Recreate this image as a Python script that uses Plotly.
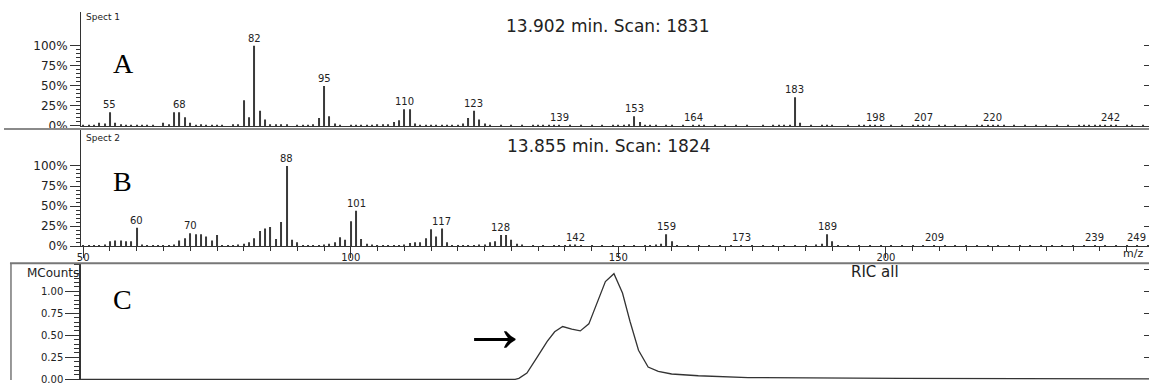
import plotly.graph_objects as go

W, H = 1149, 387


def px(x):
    return x / W


def py(y):
    return 1 - y / H


# ---------------- data ----------------
A_mz = [50, 51, 52, 53, 54, 55, 56, 57, 58, 59, 60, 61, 62, 63, 65, 66, 67, 68, 69, 70,
        71, 72, 73, 74, 75, 76, 78, 79, 80, 81, 82, 83, 84, 85, 86, 87, 88, 90, 91, 92,
        93, 94, 95, 96, 97, 98, 100, 101, 102, 103, 104, 105, 106, 107, 108, 109, 110, 111, 112, 113,
        114, 115, 116, 117, 118, 119, 120, 121, 122, 123, 124, 125, 126, 128, 130, 132, 134, 135, 136, 137,
        138, 139, 141, 143, 145, 147, 149, 150, 151, 152, 153, 154, 155, 156, 157, 159, 160, 162, 164, 165,
        166, 168, 170, 172, 174, 177, 179, 180, 181, 182, 183, 184, 186, 188, 189, 190, 193, 195, 196, 197,
        198, 199, 201, 203, 205, 206, 207, 208, 210, 211, 213, 215, 217, 218, 219, 220, 221, 222, 224, 226,
        228, 230, 232, 234, 236, 237, 238, 239, 240, 241, 242, 243, 245, 246, 248]
A_int = [1.5, 1.5, 1.5, 4, 3, 17, 4, 2, 1.5, 1.5, 1.5, 1.5, 1.5, 1.5, 4, 2, 17, 17, 11, 4,
         1.5, 2, 1.5, 1.5, 1.5, 1.5, 2, 2, 32, 11, 100, 19, 8, 2, 2, 2, 2, 1.5, 1.5, 1.5,
         2, 10, 50, 12, 3, 1.5, 1.5, 1.5, 1.5, 1.5, 1.5, 2, 2, 2, 5, 7, 21, 21, 3, 1.5,
         1.5, 1.5, 1.5, 1.5, 1.5, 1.5, 1.5, 3, 10, 19, 8, 3, 1.5, 1.5, 1.5, 1.5, 1.5, 1.5, 1.5, 1.5,
         1.5, 1.5, 1.5, 1.5, 1.5, 1.5, 1.5, 1.5, 1.5, 2, 12, 5, 1.5, 1.5, 1.5, 1.5, 1.5, 1.5, 1.5, 1.5,
         1.5, 1.5, 1.5, 1.5, 1.5, 1.5, 1.5, 1.5, 1.5, 1.5, 36, 4, 1.5, 1.5, 1.5, 1.5, 1.5, 1.5, 1.5, 1.5,
         1.5, 1.5, 1.5, 1.5, 1.5, 1.5, 1.5, 1.5, 1.5, 1.5, 1.5, 1.5, 1.5, 1.5, 1.5, 1.5, 1.5, 1.5, 1.5, 1.5,
         1.5, 1.5, 1.5, 1.5, 1.5, 1.5, 1.5, 1.5, 1.5, 1.5, 1.5, 1.5, 1.5, 1.5, 1.5]
A_labels = [55, 68, 82, 95, 110, 123, 139, 153, 164, 183, 198, 207, 220, 242]

B_mz = [50, 51, 52, 53, 54, 55, 56, 57, 58, 59, 60, 61, 62, 63, 64, 65, 66, 67, 68, 69,
        70, 71, 72, 73, 74, 75, 76, 77, 78, 79, 80, 81, 82, 83, 84, 85, 86, 87, 88, 89,
        90, 91, 92, 93, 94, 95, 96, 97, 98, 99, 100, 101, 102, 103, 104, 105, 106, 107, 108, 109,
        110, 111, 112, 113, 114, 115, 116, 117, 118, 119, 120, 121, 122, 123, 124, 125, 126, 127, 128, 129,
        130, 131, 132, 134, 136, 138, 139, 140, 141, 142, 143, 145, 147, 149, 151, 153, 155, 156, 157, 158,
        159, 160, 161, 163, 165, 167, 169, 171, 173, 175, 177, 179, 181, 183, 185, 187, 188, 189, 190, 191,
        193, 195, 197, 199, 201, 203, 205, 207, 209, 211, 213, 215, 217, 219, 221, 223, 225, 227, 229, 231,
        233, 235, 237, 239, 241, 243, 245, 247, 249]
B_int = [1.5, 1.5, 1.5, 1.5, 2, 6, 7, 7, 6, 6, 23, 2, 1.5, 1.5, 1.5, 1.5, 1.5, 2, 7, 10,
         16, 15, 15, 12, 7, 14, 1.5, 1.5, 1.5, 2, 3, 5, 10, 19, 22, 24, 9, 30, 100, 8,
         5, 1.5, 1.5, 1.5, 1.5, 2, 3, 5, 11, 8, 31, 44, 9, 3, 2, 1.5, 1.5, 1.5, 1.5, 1.5,
         2, 4, 5, 5, 10, 21, 12, 22, 5, 1.5, 1.5, 1.5, 1.5, 1.5, 2, 2, 5, 6, 14, 14,
         8, 3, 2, 1.5, 1.5, 1.5, 1.5, 1.5, 2, 2, 1.5, 1.5, 1.5, 1.5, 1.5, 1.5, 1.5, 1.5, 2, 3,
         15, 6, 1.5, 1.5, 1.5, 1.5, 1.5, 1.5, 1.5, 1.5, 1.5, 1.5, 1.5, 1.5, 1.5, 2, 3, 15, 6, 1.5,
         1.5, 1.5, 1.5, 1.5, 1.5, 1.5, 1.5, 1.5, 1.5, 1.5, 1.5, 1.5, 1.5, 1.5, 1.5, 1.5, 1.5, 1.5, 1.5, 1.5,
         1.5, 1.5, 1.5, 1.5, 1.5, 1.5, 1.5, 1.5, 1.5]
B_labels = [60, 70, 88, 101, 117, 128, 142, 159, 173, 189, 209, 239, 249]

pct_ticks = [0, 25, 50, 75, 100]
pct_text = ["0%", "25%", "50%", "75%", "100%"]
mz_ticks = [50, 100, 150, 200]
mz_text = ["50", "100", "150", "200"]

ric_time = [12.900, 13.713, 13.720, 13.735, 13.754, 13.773, 13.787, 13.802, 13.819, 13.835,
            13.851, 13.866, 13.882, 13.898, 13.914, 13.928, 13.944, 13.962, 13.981, 14.006,
            14.056, 14.149, 14.435, 14.900]
ric_mcounts = [0.0, 0.0, 0.01, 0.07, 0.25, 0.43, 0.54, 0.60, 0.57, 0.55,
               0.63, 0.86, 1.11, 1.20, 0.98, 0.66, 0.33, 0.14, 0.09, 0.06,
               0.04, 0.02, 0.01, 0.005]
mc_ticks = [0, 0.25, 0.5, 0.75, 1.0]
mc_text = ["0.00", "0.25", "0.50", "0.75", "1.00"]

# ---------------- figure ----------------
SANS = "DejaVu Sans"
SERIF = "Liberation Serif"
INK = "#222222"
AX = "#333333"
BAR = "#3a3a3a"

fig = go.Figure()
fig.add_trace(go.Bar(x=A_mz, y=A_int, width=0.2, marker=dict(color=BAR, line=dict(width=0)),
                     xaxis="x", yaxis="y", hoverinfo="skip"))
fig.add_trace(go.Bar(x=B_mz, y=B_int, width=0.2, marker=dict(color=BAR, line=dict(width=0)),
                     xaxis="x2", yaxis="y2", hoverinfo="skip"))
fig.add_trace(go.Scatter(x=ric_time, y=ric_mcounts, mode="lines", line=dict(color="#333", width=1.3),
                         xaxis="x3", yaxis="y3", hoverinfo="skip"))
for xa, ya in (("x", "y4"), ("x2", "y5"), ("x3", "y6")):
    fig.add_trace(go.Scatter(x=[None], y=[None], xaxis=xa, yaxis=ya, showlegend=False, hoverinfo="skip"))

xdom = [px(77.3), 1.0]
xr = [49.59, 249.16]
rangeA = [0, 142.5]
rangeB = [0, 145.9]
rangeC = [-0.008, 1.32]

common_y = dict(showline=True, linecolor=AX, linewidth=1, ticks="outside", ticklen=10, tickcolor=AX,
                showgrid=False, zeroline=False, tickfont=dict(family=SANS, size=12, color=INK))
minor_pct = dict(tickvals=[v for v in range(5, 100, 5) if v % 25], ticks="outside", ticklen=4, tickcolor=AX)
right_common = dict(side="right", ticks="inside", ticklen=5, tickcolor=AX, showticklabels=False,
                    showline=False, showgrid=False, zeroline=False)

fig.update_layout(
    width=W, height=H, margin=dict(l=0, r=0, t=0, b=0),
    paper_bgcolor="white", plot_bgcolor="white", showlegend=False, barmode="overlay",
    xaxis=dict(domain=xdom, range=xr, anchor="y", showline=True, linecolor=AX, linewidth=1,
               ticks="", showticklabels=False, showgrid=False, zeroline=False),
    yaxis=dict(domain=[py(128.3), py(12)], range=rangeA, anchor="x", tickvals=pct_ticks, ticktext=pct_text,
               minor=minor_pct, **common_y),
    yaxis4=dict(overlaying="y", anchor="x", range=rangeA, tickvals=pct_ticks[1:], **right_common),
    xaxis2=dict(domain=xdom, range=xr, anchor="y2", showline=True, linecolor=AX, linewidth=1,
                ticks="outside", ticklen=11, tickcolor=AX, tickvals=mz_ticks, ticktext=mz_text,
                ticklabelstandoff=-9, tickfont=dict(family=SANS, size=10, color=INK),
                minor=dict(tickvals=[v for v in range(55, 250, 5) if v % 50], ticks="outside",
                           ticklen=4, tickcolor=AX),
                showgrid=False, zeroline=False),
    yaxis2=dict(domain=[py(250.7), py(131.5)], range=rangeB, anchor="x2", tickvals=pct_ticks,
                ticktext=pct_text, minor=minor_pct, **common_y),
    yaxis5=dict(overlaying="y2", anchor="x2", range=rangeB, tickvals=pct_ticks[1:], **right_common),
    xaxis3=dict(domain=xdom, range=[12.9, 14.9], anchor="y3", visible=False),
    yaxis3=dict(domain=[0, py(268)], range=rangeC, anchor="x3", tickvals=mc_ticks, ticktext=mc_text,
                showline=True, linecolor=AX, linewidth=1.5, ticks="outside", ticklen=14, tickcolor=AX,
                showgrid=False, zeroline=False, tickfont=dict(family=SANS, size=10, color=INK),
                minor=dict(tickvals=[i * 0.05 for i in range(1, 27) if i % 5], ticks="outside",
                           ticklen=5, tickcolor=AX)),
    yaxis6=dict(overlaying="y3", anchor="x3", range=rangeC, tickvals=[0.25, 0.5, 0.75, 1.0, 1.25],
                **right_common),
)

shapes = [
    dict(type="line", xref="paper", yref="paper", x0=0, x1=1, y0=py(131.5), y1=py(131.5),
         line=dict(color="#8a8a8a", width=2)),
    dict(type="line", xref="paper", yref="paper", x0=px(6), x1=1, y0=py(268), y1=py(268),
         line=dict(color="#777", width=2)),
    dict(type="line", xref="paper", yref="paper", x0=px(7), x1=px(7), y0=py(268), y1=0,
         line=dict(color="#777", width=1.5)),
]
fig.update_layout(shapes=shapes)

ann = []


def txt(x, y, s, size, family=SANS, xanchor="center", color=INK):
    ann.append(dict(x=px(x), y=py(y), xref="paper", yref="paper", text=s, showarrow=False,
                    xanchor=xanchor, yanchor="middle", font=dict(family=family, size=size, color=color)))


txt(606, 26, "13.902 min. Scan: 1831", 17)
txt(607, 148.5, "13.855 min. Scan: 1824", 17)
txt(80, 17, "Spect 1", 9, xanchor="left")
txt(80, 140.5, "Spect 2", 9, xanchor="left")
txt(120, 64.5, "A", 28, family=SERIF, color="black")
txt(119, 185, "B", 28, family=SERIF, color="black")
txt(119, 305, "C", 28, family=SERIF, color="black")
txt(874, 277.5, "RIC all", 15)
txt(1133, 258, "m/z", 11)
txt(77, 278, "MCounts", 12, xanchor="right")
txt(492.5, 334, "→", 70, family=SERIF, color="black")

A_lookup = dict(zip(A_mz, A_int))
B_lookup = dict(zip(B_mz, B_int))
for m in A_labels:
    ann.append(dict(x=m, y=A_lookup.get(m, 1.5), xref="x", yref="y", text=str(m), showarrow=False,
                    yanchor="bottom", yshift=0, font=dict(family=SANS, size=10, color=INK)))
for m in B_labels:
    ann.append(dict(x=m, y=B_lookup.get(m, 1.5), xref="x2", yref="y2", text=str(m), showarrow=False,
                    yanchor="bottom", yshift=0, xanchor="right" if m == B_labels[-1] else "center",
                    font=dict(family=SANS, size=10, color=INK)))
fig.update_layout(annotations=ann)

fig.write_html("out.html")
